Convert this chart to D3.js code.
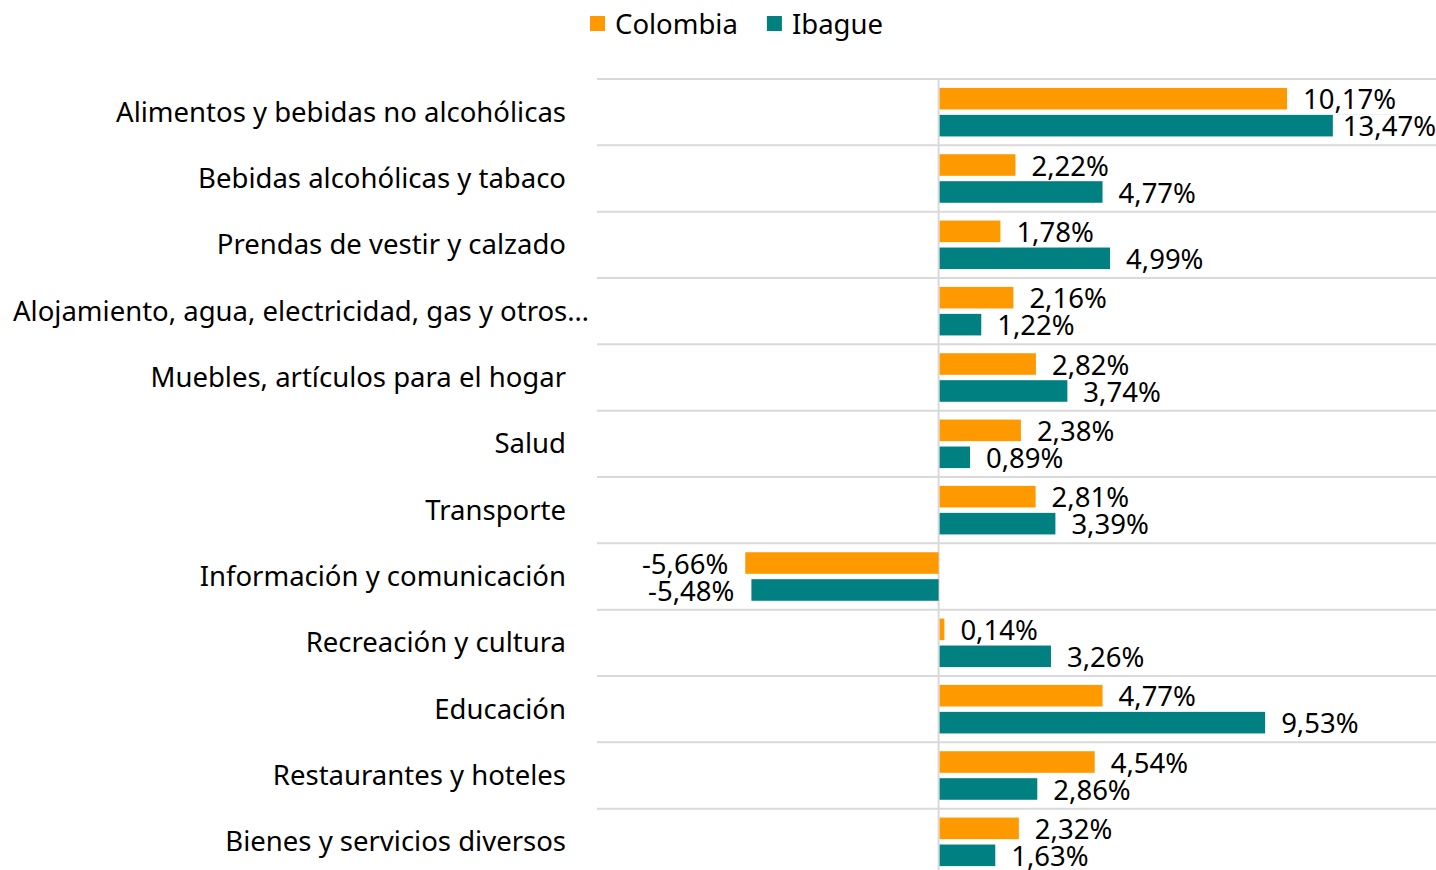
<!DOCTYPE html>
<html>
<head>
<meta charset="utf-8">
<script src="https://cdn.jsdelivr.net/npm/d3@7"></script>
<style>
  html, body { margin: 0; padding: 0; background: #fff; }
  svg { display: block; font-family: "Segoe UI", "Noto Sans", "Open Sans", sans-serif; }
</style>
</head>
<body>
<svg id="chart" width="1436" height="870"></svg>
<script>
const categories = [
  "Alimentos y bebidas no alcohólicas",
  "Bebidas alcohólicas y tabaco",
  "Prendas de vestir y calzado",
  "Alojamiento, agua, electricidad, gas y otros…",
  "Muebles, artículos para el hogar",
  "Salud",
  "Transporte",
  "Información y comunicación",
  "Recreación y cultura",
  "Educación",
  "Restaurantes y hoteles",
  "Bienes y servicios diversos"
];
const seriesNames = ["Colombia", "Ibague"];
const colombia = [10.17, 2.22, 1.78, 2.16, 2.82, 2.38, 2.81, -5.66, 0.14, 4.77, 4.54, 2.32];
const ibague   = [13.47, 4.77, 4.99, 1.22, 3.74, 0.89, 3.39, -5.48, 3.26, 9.53, 2.86, 1.63];
const colors = ["#FF9900", "#008080"];

const W = 1436, H = 870;
const svg = d3.select("#chart");
const FS = 27.5;

const plot = { left: 597, right: 1451, top: 79, bottom: 875 };
const x = d3.scaleLinear().domain([-10, 15]).range([plot.left, plot.right]);
const y = d3.scaleBand().domain(categories).range([plot.top, plot.bottom]).paddingInner(0).paddingOuter(0);
const ys = d3.scaleBand().domain(seriesNames).range([0, y.bandwidth()]).paddingInner(0.2).paddingOuter(0.33);

const values = categories.map((c, i) => ({ cat: c, vals: [colombia[i], ibague[i]] }));

// gridlines (category boundaries)
const bounds = categories.map(c => y(c)).concat([plot.bottom]);
svg.append("g").selectAll("line").data(bounds).join("line")
  .attr("x1", plot.left).attr("x2", W)
  .attr("y1", d => d).attr("y2", d => d)
  .attr("stroke", "#d9d9d9").attr("stroke-width", 2);

// zero line
svg.append("line")
  .attr("x1", x(0)).attr("x2", x(0))
  .attr("y1", plot.top).attr("y2", H)
  .attr("stroke", "#d9d9d9").attr("stroke-width", 2);

// bars
const groups = svg.append("g").selectAll("g").data(values).join("g")
  .attr("transform", d => `translate(0,${y(d.cat)})`);
seriesNames.forEach((s, si) => {
  groups.append("rect")
    .attr("x", d => x(Math.min(0, d.vals[si])) + (d.vals[si] >= 0 ? 1 : 0))
    .attr("y", ys(s))
    .attr("width", d => Math.abs(x(d.vals[si]) - x(0)))
    .attr("height", ys.bandwidth())
    .attr("fill", colors[si]);
});

// data labels
const fmt = v => d3.format(".2f")(v).replace(".", ",").replace("−", "-") + "%";
const boxLayer = svg.append("g");
const labelLayer = svg.append("g");
values.forEach(d => {
  seriesNames.forEach((s, si) => {
    const v = d.vals[si];
    const cy = y(d.cat) + ys(s) + ys.bandwidth() / 2 + 1;
    const t = labelLayer.append("text")
      .attr("y", cy).attr("dy", "0.35em")
      .attr("font-size", FS).attr("fill", "#000")
      .text(fmt(v));
    const w = t.node().getComputedTextLength();
    let lx;
    if (v >= 0) {
      lx = x(v) + 17;
      if (lx + w > W) lx = W - w;
    } else {
      lx = x(v) - 17 - w;
    }
    t.attr("x", lx);
    boxLayer.append("rect")
      .attr("x", lx - 10).attr("y", cy - 12).attr("width", w + 10).attr("height", 24)
      .attr("fill", "#fff");
  });
});

// category labels
svg.append("g").selectAll("text").data(categories).join("text")
  .attr("y", d => y(d) + y.bandwidth() / 2).attr("dy", "0.35em")
  .attr("font-size", FS).attr("fill", "#000")
  .text(d => d)
  .each(function() {
    const w = this.getComputedTextLength();
    const sel = d3.select(this);
    if (566 - w < 13) sel.attr("x", 13).attr("text-anchor", "start");
    else sel.attr("x", 566).attr("text-anchor", "end");
  });

// legend
const legend = svg.append("g");
let lx = 590;
seriesNames.forEach((s, i) => {
  legend.append("rect").attr("x", lx).attr("y", 16).attr("width", 15).attr("height", 15).attr("fill", colors[i]);
  const t = legend.append("text").attr("x", lx + 25).attr("y", 24).attr("dy", "0.35em")
    .attr("font-size", FS).attr("fill", "#000").text(s);
  lx += 25 + t.node().getComputedTextLength() + 29;
});
</script>
</body>
</html>
